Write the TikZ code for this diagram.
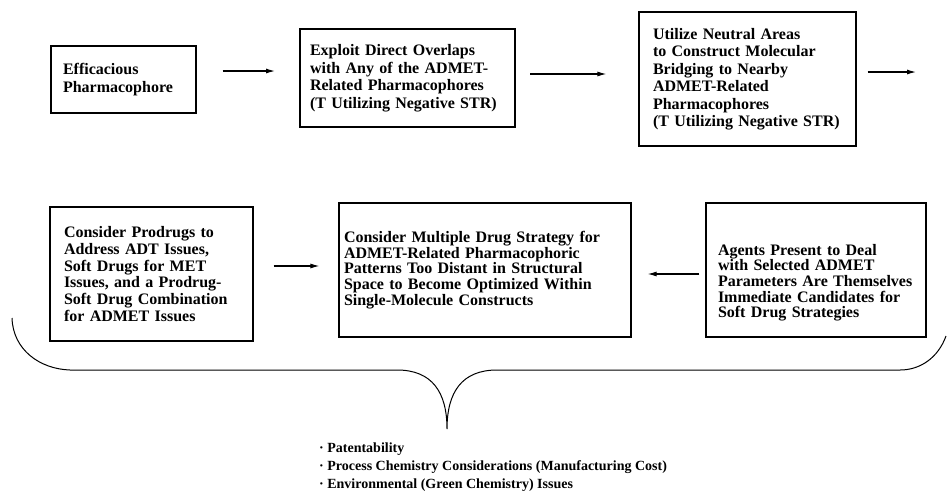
\documentclass[tikz,border=0pt]{standalone}
\usepackage{fontspec}
\setmainfont{Liberation Serif}
\usepackage{tikz}
\usetikzlibrary{arrows.meta}

\begin{document}
\begin{tikzpicture}[x=1pt,y=-1pt,>=Latex,
    stepbox/.style={draw,line width=1.3pt,align=left,font=\bfseries\fontsize{16}{17.5}\selectfont},
    flow/.style={->,line width=1.1pt,>={Latex[length=9pt,width=5pt]}},
    brace/.style={line width=1pt}]
  \useasboundingbox (0,0) rectangle (947,491);

  % top row
  \node[stepbox,minimum width=145pt,minimum height=67pt,inner xsep=12pt,text width=121pt]
    (eff) at (123.5,79.5) {Efficacious\\Pharmacophore};
  \node[stepbox,line width=2pt,minimum width=215pt,minimum height=98pt,inner xsep=10pt,text width=195pt]
    (overlap) at (407.5,78) {Exploit Direct Overlaps\\with Any of the ADMET-\\Related Pharmacophores\\(T Utilizing Negative STR)};
  \node[stepbox,minimum width=217pt,minimum height=134pt,inner xsep=14pt,text width=189pt]
    (bridge) at (747.5,79) {Utilize Neutral Areas\\to Construct Molecular\\Bridging to Nearby\\ADMET-Related\\Pharmacophores\\(T Utilizing Negative STR)};
  \coordinate (out) at (916,72);

  \draw[flow,shorten <=26pt,shorten >=24pt] (eff.east |- 0,71) -- (overlap.west |- 0,71);
  \draw[flow,shorten <=14pt,shorten >=32pt] (overlap.east |- 0,74) -- (bridge.west |- 0,74);
  \draw[flow,shorten <=11pt] (bridge.east |- out) -- (out);

  % bottom row
  \node[stepbox,font=\bfseries\fontsize{16}{16.8}\selectfont,minimum width=203pt,minimum height=134pt,inner xsep=14pt,text width=175pt]
    (prodrug) at (151.5,274) {Consider Prodrugs to\\Address ADT Issues,\\Soft Drugs for MET\\Issues, and a Prodrug-\\Soft Drug Combination\\for ADMET Issues};
  \node[stepbox,font=\bfseries\fontsize{16}{15.6}\selectfont,minimum width=292pt,minimum height=134pt,inner xsep=5pt,text width=282pt]
    (multi) at (485,270) {Consider Multiple Drug Strategy for\\ADMET-Related Pharmacophoric\\Patterns Too Distant in Structural\\Space to Become Optimized Within\\Single-Molecule Constructs};
  \node[stepbox,font=\bfseries\fontsize{16}{15.6}\selectfont,minimum width=220pt,minimum height=134pt,inner xsep=12pt,text width=196pt]
    (agents) at (816,270) {\mbox{}\\[21pt]Agents Present to Deal\\with Selected ADMET\\Parameters Are Themselves\\Immediate Candidates for\\Soft Drug Strategies};

  \draw[flow,shorten <=20pt,shorten >=19pt] (prodrug.east |- 0,266) -- (multi.west |- 0,266);
  \draw[flow,shorten <=6pt,shorten >=16pt] (agents.west |- 0,274) -- (multi.east |- 0,274);

  % brace under both rows
  \coordinate (tip) at (447,429);
  \draw[brace] (12,318) .. controls (13,350) and (40,369) .. (70,370)
    -- (397,370) .. controls (432,370) and (447,392) .. (tip)
    .. controls (447,392) and (462,370) .. (497,370)
    -- (900,370) .. controls (920,370) and (938,358) .. (946,336);

  \node[anchor=north west,align=left,inner sep=0pt,font=\bfseries\fontsize{14}{18}\selectfont]
    (issues) at (319,443) {· Patentability\\· Process Chemistry Considerations (Manufacturing Cost)\\· Environmental (Green Chemistry) Issues};
\end{tikzpicture}
\end{document}
